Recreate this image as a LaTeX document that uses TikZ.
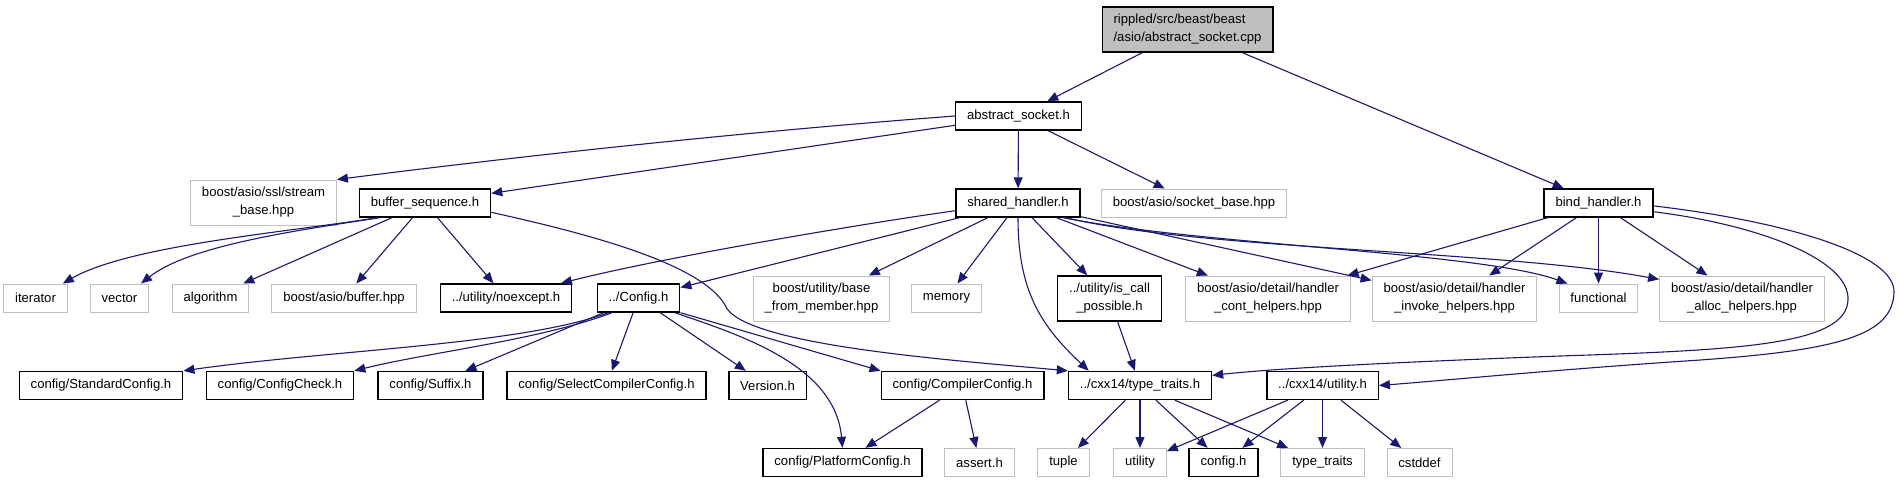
\documentclass[tikz,border=0pt]{standalone}
\usepackage{fontspec}
\setmainfont{Liberation Sans}
\usepackage{xcolor}
\usetikzlibrary{arrows.meta}
\definecolor{edgeblue}{HTML}{191970}
\definecolor{extgray}{HTML}{BFBFBF}
\definecolor{rootgray}{HTML}{BFBFBF}
\begin{document}
\begin{tikzpicture}[x=0.5pt,y=-0.5pt,
  file/.style={draw=black,line width=0.7pt,fill=white,inner xsep=5.7pt,inner ysep=1pt,minimum height=14pt,
    font=\fontsize{6.55pt}{9pt}\selectfont},
  ext/.style={file,draw=extgray,line width=0.5pt},
  twol/.style={align=center,minimum height=22.5pt},
  mainf/.style={file,fill=rootgray,align=left,minimum height=22.5pt},
  dep/.style={draw=edgeblue,line width=0.55pt,-{Triangle[length=5.5pt,width=4.5pt]}}]
\useasboundingbox (0,0) rectangle (1900,483);
% row 1 and 2
\node[mainf] (root) at (1187.5,29.5) {rippled/src/beast/beast\\/asio/abstract\_socket.cpp};
\node[file] (abssock) at (1018.5,116) {abstract\_socket.h};
% row 3
\node[ext,twol] (sslbase) at (263.5,202.5) {boost/asio/ssl/stream\\\_base.hpp};
\node[file] (bufseq) at (425,203) {buffer\_sequence.h};
\node[file] (shrdhnd) at (1018,203) {shared\_handler.h};
\node[ext] (sockbase) at (1194,203) {boost/asio/socket\_base.hpp};
\node[file] (bindhnd) at (1598.5,203) {bind\_handler.h};
% row 4
\node[ext] (iterator) at (35.5,298) {iterator};
\node[ext] (vector) at (119.5,298) {vector};
\node[ext] (algorithm) at (210.5,298) {algorithm};
\node[ext] (bufhpp) at (344,298) {boost/asio/buffer.hpp};
\node[file] (noexc) at (506,298) {../utility/noexcept.h};
\node[file] (config) at (638.5,298) {../Config.h};
\node[ext,twol] (basemem) at (821.5,298.5) {boost/utility/base\\\_from\_member.hpp};
\node[ext] (memory) at (946.5,298) {memory};
\node[file,twol] (iscall) at (1109.5,298.5) {../utility/is\_call\\\_possible.h};
\node[ext,twol] (conthlp) at (1268,298.5) {boost/asio/detail/handler\\\_cont\_helpers.hpp};
\node[ext,twol] (invhlp) at (1454.5,298.5) {boost/asio/detail/handler\\\_invoke\_helpers.hpp};
\node[ext] (functional) at (1598.5,298) {functional};
\node[ext,twol] (allochlp) at (1742,298.5) {boost/asio/detail/handler\\\_alloc\_helpers.hpp};
% row 5
\node[file] (stdcfg) at (101,385.5) {config/StandardConfig.h};
\node[file] (cfgcheck) at (280,385.5) {config/ConfigCheck.h};
\node[file] (suffix) at (430.5,385.5) {config/Suffix.h};
\node[file] (selcc) at (606.5,385.5) {config/SelectCompilerConfig.h};
\node[file] (version) at (767.5,385.5) {Version.h};
\node[file] (compcfg) at (962.5,385.5) {config/CompilerConfig.h};
\node[file] (ttraits) at (1140,385.5) {../cxx14/type\_traits.h};
\node[file] (cxxutil) at (1322.5,385.5) {../cxx14/utility.h};
% row 6
\node[file] (platcfg) at (842.5,462.5) {config/PlatformConfig.h};
\node[ext] (asserth) at (979.5,462.5) {assert.h};
\node[ext] (tuple) at (1063.5,462.5) {tuple};
\node[ext] (utility) at (1140,462.5) {utility};
\node[file] (configh) at (1223.5,462.5) {config.h};
\node[ext] (typetr) at (1322.5,462.5) {type\_traits};
\node[ext] (cstddef) at (1419.5,462.5) {cstddef};
% straight includes
\foreach \a/\b in {root/abssock,root/bindhnd,abssock/bufseq,abssock/shrdhnd,abssock/sockbase,
  bufseq/algorithm,bufseq/bufhpp,bufseq/noexc,shrdhnd/config,shrdhnd/basemem,shrdhnd/memory,
  shrdhnd/iscall,shrdhnd/conthlp,shrdhnd/invhlp,bindhnd/conthlp,bindhnd/invhlp,bindhnd/functional,
  bindhnd/allochlp,config/suffix,config/selcc,config/version,iscall/ttraits,compcfg/platcfg,
  compcfg/asserth,ttraits/tuple,ttraits/utility,ttraits/configh,ttraits/typetr,cxxutil/utility,
  cxxutil/configh,cxxutil/typetr,cxxutil/cstddef}
  \draw[dep] (\a) -- (\b);
\draw[dep] (config.south east) -- (compcfg.north west);
% curved includes
\draw[dep] (abssock.west) .. controls (755,131) and (537,154) .. (sslbase.north east);
\draw[dep] (bufseq.197) .. controls (290,232) and (130,245) .. (iterator.28);
\draw[dep] (bufseq.198) .. controls (300,230) and (190,245) .. (vector.34);
\draw[dep] (bufseq.-8) .. controls (580,232) and (700,262) .. (725,305)
  .. controls (740,345) and (950,360) .. (ttraits.north west);
\draw[dep] (shrdhnd.south) .. controls (1018,290) and (1040,325) .. (ttraits.164);
\draw[dep] (shrdhnd.187) .. controls (860,224) and (660,258) .. (noexc.15);
\draw[dep] (shrdhnd.-18) .. controls (1200,245) and (1480,252) .. (functional.155);
\draw[dep] (shrdhnd.-17) .. controls (1200,250) and (1500,250) .. (allochlp.167);
\draw[dep] (bindhnd.-9) .. controls (1760,225) and (1850,260) .. (1848,300)
  .. controls (1846,345) and (1740,350) .. (1560,356)
  .. controls (1400,362) and (1280,368) .. (ttraits.8);
\draw[dep] (bindhnd.-3) .. controls (1790,222) and (1895,255) .. (1894,292)
  .. controls (1893,335) and (1840,350) .. (1700,360)
  .. controls (1550,370) and (1450,380) .. (cxxutil.east);
\draw[dep] (config.206) .. controls (520,345) and (330,350) .. (stdcfg.north east);
\draw[dep] (config.209) .. controls (540,340) and (430,352) .. (cfgcheck.north east);
\draw[dep] (config.-22) .. controls (740,335) and (835,365) .. (platcfg.north);
\end{tikzpicture}
\end{document}
